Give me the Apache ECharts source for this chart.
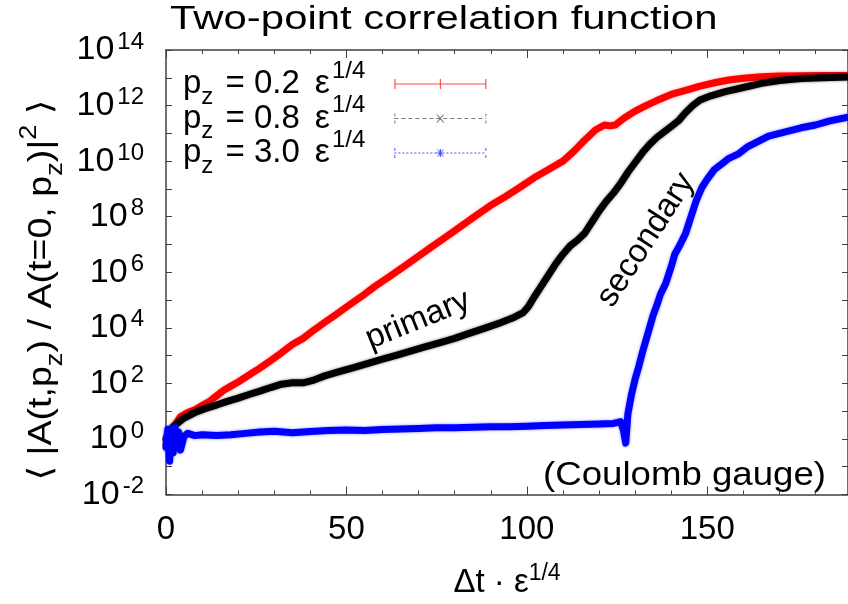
<!DOCTYPE html>
<html>
<head>
<meta charset="utf-8">
<script src="https://cdn.jsdelivr.net/npm/echarts@6/dist/echarts.min.js"></script>
<style>
  html, body { margin: 0; padding: 0; background: #fff; }
  #chart { width: 848px; height: 604px; }
</style>
</head>
<body>
<div id="chart"></div>
<script>
// Two-point correlation of the gauge field, log10 of <|A(t,pz)/A(0,pz)|^2> vs Δt·ε^(1/4)
const pzValues = ['0.2', '0.8', '3.0'];
const seriesNames = ['pz = 0.2', 'pz = 0.8', 'pz = 3.0'];

// [Δt·ε^(1/4), log10 correlation]
const pz02 = [
  [0, -0.2], [0.5, 0.1], [1, -0.4], [1.5, 0.2], [2, 0.4], [3, 0.6], [4, 0.8], [6, 0.95],
  [8, 1.05], [10, 1.2], [12, 1.35], [14, 1.55], [16, 1.75], [18, 1.9], [20, 2.05], [23, 2.3],
  [26, 2.55], [29, 2.82], [32, 3.1], [35, 3.4], [38, 3.62], [41, 3.92], [44, 4.2], [47, 4.47],
  [50, 4.75], [54, 5.11], [58, 5.5], [62, 5.85], [66, 6.21], [70, 6.58], [74, 6.95], [78, 7.31],
  [82, 7.68], [86, 8.05], [90, 8.41], [94, 8.72], [98, 9.05], [102, 9.4], [106, 9.7], [110, 10.0],
  [113, 10.35], [116, 10.75], [119, 11.12], [121.5, 11.3], [123, 11.27], [124.5, 11.3],
  [127, 11.55], [130, 11.8], [133, 12.0], [136, 12.18], [140, 12.4], [144, 12.55], [148, 12.7],
  [152, 12.82], [156, 12.92], [160, 12.98], [165, 13.04], [170, 13.06], [176, 13.07], [182, 13.08],
  [189, 13.08]
];
const pz08 = [
  [0, 0.0], [1, 0.3], [2, 0.45], [3, 0.55], [5, 0.75], [8, 0.95], [11, 1.1], [14, 1.22],
  [17, 1.35], [20, 1.47], [23, 1.6], [26, 1.72], [29, 1.85], [32, 1.97], [35, 2.02], [38, 2.02],
  [41, 2.12], [44, 2.27], [48, 2.42], [52, 2.57], [56, 2.72], [60, 2.87], [64, 3.02], [68, 3.17],
  [72, 3.32], [76, 3.47], [80, 3.62], [84, 3.8], [88, 3.97], [92, 4.15], [96, 4.35], [99, 4.55],
  [100.5, 4.78], [102, 5.1], [104, 5.5], [106, 5.9], [108, 6.3], [110, 6.65], [112, 6.95],
  [114, 7.15], [116, 7.4], [118, 7.8], [120, 8.2], [122, 8.55], [124, 8.85], [126, 9.2],
  [128, 9.6], [130, 9.95], [132, 10.3], [134, 10.6], [136, 10.85], [138, 11.05], [140, 11.25],
  [142, 11.45], [144, 11.75], [146, 12.0], [148, 12.2], [151, 12.35], [155, 12.5], [160, 12.65],
  [165, 12.8], [170, 12.9], [176, 12.97], [182, 13.0], [189, 13.03]
];
const pz30 = [
  [0, -0.3], [0.5, 0.35], [1, -0.8], [1.5, 0.2], [2, -0.5], [2.5, 0.4], [3, -0.2], [3.5, 0.25],
  [4, -0.4], [5, 0.1], [6, 0.2], [8, 0.12], [10, 0.15], [14, 0.12], [18, 0.15], [22, 0.2],
  [26, 0.25], [30, 0.28], [35, 0.22], [40, 0.27], [45, 0.3], [50, 0.32], [55, 0.3], [60, 0.34],
  [65, 0.36], [70, 0.38], [75, 0.4], [80, 0.4], [85, 0.42], [90, 0.44], [95, 0.44], [100, 0.46],
  [105, 0.48], [110, 0.5], [115, 0.52], [120, 0.54], [124, 0.56], [126, 0.62], [126.8, 0.3],
  [127.4, -0.15], [128, 0.9], [129, 1.6], [130, 2.15], [131, 2.6], [132, 3.1], [133, 3.55],
  [134, 4.0], [135, 4.45], [136, 4.8], [137, 5.2], [138.5, 5.6], [140, 6.2], [141, 6.65],
  [142.5, 7.0], [144, 7.4], [145.5, 8.0], [147, 8.6], [148.5, 9.05], [150, 9.35], [152, 9.7],
  [154, 9.9], [156, 10.1], [158.5, 10.25], [161, 10.5], [164, 10.7], [167, 10.9], [170, 11.0],
  [173, 11.1], [176, 11.2], [180, 11.3], [184, 11.45], [189, 11.58]
];

const FONT = '"Liberation Sans", Arial, "DejaVu Sans", sans-serif';
const AXIS_COLOR = '#404040';

// Legend sample glyphs (filled paths in a 92x10 box)
function rect(x, y, w, h) { return 'M' + x + ',' + y + 'H' + (x + w) + 'V' + (y + h) + 'H' + x + 'Z'; }
const caps = rect(0, 2, 1.2, 10) + rect(90.8, 2, 1.2, 10);
const dashCaps = rect(0, 2, 1, 3) + rect(0, 9, 1, 3) + rect(91, 2, 1, 3) + rect(91, 9, 1, 3);
let redIcon = rect(0, 6.4, 92, 1.2) + caps + rect(45.4, 2, 1.2, 10);
let blackIcon = dashCaps;
for (let x = 0; x < 92; x += 7) blackIcon += rect(x, 6.4, Math.min(4, 92 - x), 1.2);
blackIcon += 'M42,3L43.4,3L50,11L48.6,11Z M48.6,3L50,3L43.4,11L42,11Z';
let blueIcon = dashCaps;
for (let x = 0; x < 92; x += 4) blueIcon += rect(x, 6.4, Math.min(2, 92 - x), 1.2);
blueIcon += rect(45.4, 3, 1.2, 8) + rect(42, 6.4, 8, 1.2) +
  'M42.5,3.5L43.5,3.5L49.5,10.5L48.5,10.5Z M48.5,3.5L49.5,3.5L43.5,10.5L42.5,10.5Z';

const chart = echarts.init(document.getElementById('chart'), null, { renderer: 'canvas' });

function xAxisDef(pos, interval, len, withLabels, withLine) {
  return {
    type: 'value', position: pos, min: 0, max: 189, interval: interval,
    axisLine: { show: withLine, onZero: false, lineStyle: { color: AXIS_COLOR, width: 1.5 } },
    axisTick: { show: true, inside: true, length: len, lineStyle: { color: AXIS_COLOR, width: 1 } },
    axisLabel: withLabels ? {
      show: true, fontSize: 33, lineHeight: 34, margin: 18, color: '#000', fontFamily: FONT,
      showMaxLabel: false
    } : { show: false },
    splitLine: { show: false }
  };
}
function yAxisDef(pos, withLabels) {
  return {
    type: 'value', position: pos, min: -2, max: 14, interval: 1,
    axisLine: { show: true, onZero: false, lineStyle: { color: AXIS_COLOR, width: 1.5 } },
    axisTick: { show: true, inside: true, length: 6, lineStyle: { color: AXIS_COLOR, width: 1 } },
    axisLabel: withLabels ? {
      show: true, margin: 22, color: '#000',
      formatter: function (v) { return v % 2 === 0 ? '{b|10}{s|' + v + '}' : ''; },
      rich: {
        b: { fontSize: 34, lineHeight: 40, verticalAlign: 'middle', fontFamily: FONT, color: '#000' },
        s: { fontSize: 24, lineHeight: 14, verticalAlign: 'top', padding: [0, 0, 0, 3], fontFamily: FONT, color: '#000' }
      }
    } : { show: false },
    splitLine: { show: false }
  };
}

const xMain = xAxisDef('bottom', 50, 8, true, true);
xMain.name = '{b|Δt · ε}{s|1/4}';
xMain.nameLocation = 'middle';
xMain.nameGap = 68;
xMain.nameTextStyle = {
  rich: {
    b: { fontSize: 33, lineHeight: 40, verticalAlign: 'middle', fontFamily: FONT, color: '#000' },
    s: { fontSize: 23, lineHeight: 16, verticalAlign: 'top', fontFamily: FONT, color: '#000' }
  }
};

const legendRich = {
  p: { fontSize: 33, lineHeight: 50, verticalAlign: 'middle', fontFamily: FONT, color: '#000' },
  z: { fontSize: 24, lineHeight: 29, verticalAlign: 'bottom', padding: [0, 3, 0, 0], fontFamily: FONT, color: '#000' },
  m: { fontSize: 33, lineHeight: 50, verticalAlign: 'middle', fontFamily: FONT, color: '#000' },
  e: { fontSize: 34, lineHeight: 50, verticalAlign: 'middle', padding: [0, 0, 0, 15], fontFamily: FONT, color: '#000' },
  s: { fontSize: 24, lineHeight: 21, verticalAlign: 'top', padding: [0, 24, 0, 2], fontFamily: FONT, color: '#000' }
};

const yNameRich = {
  m: { fontSize: 33, lineHeight: 50, verticalAlign: 'middle', fontFamily: FONT, fill: '#000' },
  z: { fontSize: 24, lineHeight: 30, verticalAlign: 'bottom', fontFamily: FONT, fill: '#000' },
  s: { fontSize: 24, lineHeight: 24, verticalAlign: 'top', fontFamily: FONT, fill: '#000' }
};

function bandSeries(name, data, color, glow) {
  return {
    name: name, type: 'line', data: data, xAxisIndex: 0, yAxisIndex: 0,
    showSymbol: false, symbol: 'none', smooth: false, animation: false,
    lineStyle: {
      color: color, width: 7, join: 'round', cap: 'round',
      shadowColor: glow, shadowBlur: 3
    },
    itemStyle: { color: color }
  };
}

const option = {
  animation: false,
  backgroundColor: '#fff',
  textStyle: { fontFamily: FONT },
  grid: { left: 166, top: 50, width: 684, height: 459, containLabel: false },
  xAxis: [
    xMain,
    xAxisDef('bottom', 10, 4, false, false),
    xAxisDef('top', 50, 8, false, true),
    xAxisDef('top', 10, 4, false, false)
  ],
  yAxis: [yAxisDef('left', true), yAxisDef('right', false)],
  legend: {
    orient: 'vertical', left: 183, top: 59, padding: 0, itemGap: -15.5, align: 'right',
    itemWidth: 92, itemHeight: 10, selectedMode: false, symbolKeepAspect: true,
    data: [
      { name: seriesNames[0], icon: 'path://' + redIcon, itemStyle: { color: '#ff4d4d' } },
      { name: seriesNames[1], icon: 'path://' + blackIcon, itemStyle: { color: '#7a7a7a' } },
      { name: seriesNames[2], icon: 'path://' + blueIcon, itemStyle: { color: '#5050ff' } }
    ],
    formatter: function (name) {
      const i = seriesNames.indexOf(name);
      return '{p|p}{z|z}{m| = ' + pzValues[i] + '}{e|ε}{s|1/4}';
    },
    textStyle: { lineHeight: 50, rich: legendRich }
  },
  series: [
    bandSeries(seriesNames[0], pz02, '#ff0000', 'rgba(255,80,80,0.6)'),
    bandSeries(seriesNames[1], pz08, '#000000', 'rgba(0,0,0,0.55)'),
    bandSeries(seriesNames[2], pz30, '#0000ff', 'rgba(60,60,255,0.6)')
  ],
  graphic: {
    elements: [
      {
        type: 'text', x: 170, y: 20, scaleX: 1.27, silent: true,
        style: {
          text: 'Two-point correlation function', font: '33px ' + FONT, fill: '#000',
          align: 'left', verticalAlign: 'middle', textAlign: 'left', textVerticalAlign: 'middle'
        }
      },
      {
        type: 'text', x: 42, y: 290, rotation: Math.PI / 2, scaleX: 1.14, silent: true,
        style: {
          text: '{m|⟨ |A(t,p}{z|z}{m|) / A(t=0, p}{z|z}{m|)|}{s|2}{m| ⟩}',
          rich: yNameRich, font: '33px ' + FONT, fill: '#000',
          align: 'center', verticalAlign: 'middle', textAlign: 'center', textVerticalAlign: 'middle'
        }
      },
      {
        type: 'text', x: 418, y: 320, rotation: 22 * Math.PI / 180, silent: true,
        style: {
          text: 'primary', font: '33px ' + FONT, fill: '#000',
          align: 'center', verticalAlign: 'middle', textAlign: 'center', textVerticalAlign: 'middle'
        }
      },
      {
        type: 'text', x: 646, y: 240, rotation: 57 * Math.PI / 180, silent: true,
        style: {
          text: 'secondary', font: '33px ' + FONT, fill: '#000',
          align: 'center', verticalAlign: 'middle', textAlign: 'center', textVerticalAlign: 'middle'
        }
      },
      {
        type: 'text', x: 543, y: 476, scaleX: 1.11, silent: true,
        style: {
          text: '(Coulomb gauge)', font: '33px ' + FONT, fill: '#000',
          align: 'left', verticalAlign: 'middle', textAlign: 'left', textVerticalAlign: 'middle'
        }
      }
    ]
  }
};

chart.setOption(option);
</script>
</body>
</html>
